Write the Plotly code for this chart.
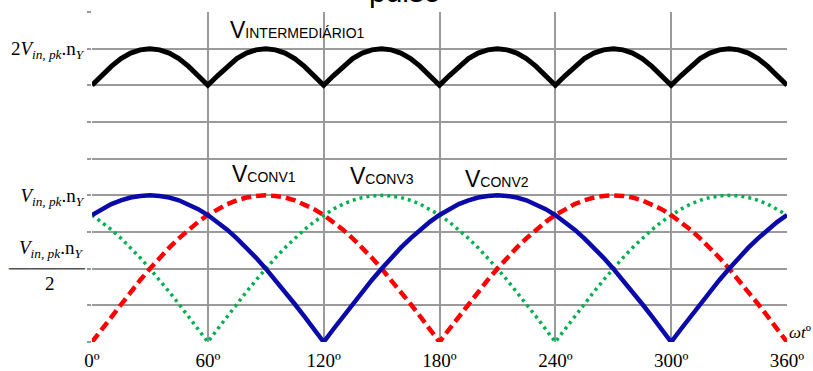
import plotly.graph_objects as go

# angle axis (degrees), 5-degree steps
theta = list(range(0, 361, 5))

# values (unit = Vin,pk.nY)
v_conv1 = [0, .087, .174, .259, .342, .423, .500, .574, .643, .707, .766, .819, .866, .906, .940, .966, .985, .996, 1.0,
           .996, .985, .966, .940, .906, .866, .819, .766, .707, .643, .574, .500, .423, .342, .259, .174, .087, 0,
           .087, .174, .259, .342, .423, .500, .574, .643, .707, .766, .819, .866, .906, .940, .966, .985, .996, 1.0,
           .996, .985, .966, .940, .906, .866, .819, .766, .707, .643, .574, .500, .423, .342, .259, .174, .087, 0]

v_conv2 = [.866, .906, .940, .966, .985, .996, 1.0, .996, .985, .966, .940, .906, .866, .819, .766, .707, .643, .574, .500,
           .423, .342, .259, .174, .087, 0,
           .087, .174, .259, .342, .423, .500, .574, .643, .707, .766, .819, .866, .906, .940, .966, .985, .996, 1.0,
           .996, .985, .966, .940, .906, .866, .819, .766, .707, .643, .574, .500, .423, .342, .259, .174, .087, 0,
           .087, .174, .259, .342, .423, .500, .574, .643, .707, .766, .819, .866]

v_conv3 = [.866, .819, .766, .707, .643, .574, .500, .423, .342, .259, .174, .087, 0,
           .087, .174, .259, .342, .423, .500, .574, .643, .707, .766, .819, .866, .906, .940, .966, .985, .996, 1.0,
           .996, .985, .966, .940, .906, .866, .819, .766, .707, .643, .574, .500, .423, .342, .259, .174, .087, 0,
           .087, .174, .259, .342, .423, .500, .574, .643, .707, .766, .819, .866, .906, .940, .966, .985, .996, 1.0,
           .996, .985, .966, .940, .906, .866]

v_intermediario = [1.75, 1.815, 1.879, 1.932, 1.970, 1.992, 2.0, 1.992, 1.970, 1.932, 1.879, 1.815, 1.75,
                   1.815, 1.879, 1.932, 1.970, 1.992, 2.0, 1.992, 1.970, 1.932, 1.879, 1.815, 1.75,
                   1.815, 1.879, 1.932, 1.970, 1.992, 2.0, 1.992, 1.970, 1.932, 1.879, 1.815, 1.75,
                   1.815, 1.879, 1.932, 1.970, 1.992, 2.0, 1.992, 1.970, 1.932, 1.879, 1.815, 1.75,
                   1.815, 1.879, 1.932, 1.970, 1.992, 2.0, 1.992, 1.970, 1.932, 1.879, 1.815, 1.75,
                   1.815, 1.879, 1.932, 1.970, 1.992, 2.0, 1.992, 1.970, 1.932, 1.879, 1.815, 1.75]

x_tickvals = [0, 60, 120, 180, 240, 300, 360]
x_ticktext = ["0º", "60º", "120º", "180º", "240º", "300º", "360º"]
x_gridvals = [0, 60, 120, 180, 240, 300]
y_gridvals = [0, 0.25, 0.5, 0.75, 1.0, 1.25, 1.5, 1.75, 2.0, 2.25]
y_ticktext = ["", "", "", "", "<i>V</i><sub><i>in, pk</i></sub>.n<sub><i>Y</i></sub>", "", "", "",
              "2<i>V</i><sub><i>in, pk</i></sub>.n<sub><i>Y</i></sub>", ""]

SERIF = "Liberation Serif, Times New Roman, serif"
SANS = "Liberation Sans, Arial, sans-serif"
GRID = "#9a9a9a"

fig = go.Figure()
fig.add_trace(go.Scatter(x=theta, y=v_intermediario, mode="lines", xaxis="x2",
                         line=dict(color="#000000", width=5)))
fig.add_trace(go.Scatter(x=theta, y=v_conv3, mode="lines",
                         line=dict(color="#00B050", width=3.5, dash="3px,4px")))
fig.add_trace(go.Scatter(x=theta, y=v_conv1, mode="lines",
                         line=dict(color="#FF0000", width=4.5, dash="10px,5px")))
fig.add_trace(go.Scatter(x=theta, y=v_conv2, mode="lines",
                         line=dict(color="#0A0AAA", width=4.5)))

fig.update_layout(
    width=813, height=371,
    margin=dict(l=92, r=26, t=12, b=29),
    paper_bgcolor="white", plot_bgcolor="white",
    showlegend=False,
    xaxis=dict(range=[0, 360], tickmode="array", tickvals=x_tickvals, ticktext=x_ticktext,
               showgrid=False, zeroline=False, showline=False, ticks="", automargin=False,
               ticklabelstandoff=5,
               tickfont=dict(family=SERIF, size=19, color="black")),
    xaxis2=dict(range=[0, 360], overlaying="x", anchor="y", tickmode="array", tickvals=x_gridvals,
                showgrid=True, gridcolor=GRID, gridwidth=2, showticklabels=False,
                zeroline=False, showline=False, ticks="", automargin=False),
    yaxis=dict(range=[0, 2.25], tickmode="array", tickvals=y_gridvals, ticktext=y_ticktext,
               showgrid=True, gridcolor=GRID, gridwidth=2, zeroline=False, showline=False,
               ticks="outside", ticklen=4, tickcolor=GRID, tickwidth=2, automargin=False,
               tickfont=dict(family=SERIF, size=19, color="black")),
)

def vlabel(x, y, sub):
    fig.add_annotation(x=x, y=y, xref="x", yref="y", xanchor="left", yanchor="middle",
                       showarrow=False,
                       text='V<span style="font-size:14px">' + sub + '</span>',
                       font=dict(family=SANS, size=23, color="black"))

vlabel(70.5, 2.13, "INTERMEDIÁRIO1")
vlabel(71.5, 1.145, "CONV1")
vlabel(132.6, 1.135, "CONV3")
vlabel(192.2, 1.11, "CONV2")

# fraction label  Vin,pk.nY / 2
fig.add_annotation(x=0, y=0.5, xref="paper", yref="y", xanchor="right", yanchor="middle",
                   xshift=-7, yshift=20, showarrow=False,
                   text="<i>V</i><sub><i>in, pk</i></sub>.n<sub><i>Y</i></sub>",
                   font=dict(family=SERIF, size=19, color="black"))
fig.add_annotation(x=0, y=0.5, xref="paper", yref="y", xanchor="right", yanchor="middle",
                   xshift=-4, yshift=0, showarrow=False,
                   text="───────",
                   font=dict(family="DejaVu Sans", size=18, color="#555555"))
fig.add_annotation(x=0, y=0.5, xref="paper", yref="y", xanchor="center", yanchor="middle",
                   xshift=-42, yshift=-15, showarrow=False,
                   text="2",
                   font=dict(family=SERIF, size=19, color="black"))

# axis name
fig.add_annotation(x=360, y=0, xref="x", yref="y", xanchor="left", yanchor="middle",
                   xshift=0, yshift=10, showarrow=False,
                   text="<i>ωt</i>º",
                   font=dict(family=SERIF, size=17, color="black"))

# clipped title fragment
fig.add_annotation(x=0.45, y=1, xref="paper", yref="paper", xanchor="center", yanchor="bottom",
                   yshift=2, showarrow=False, text="pulso",
                   font=dict(family=SANS, size=30, color="black"))

fig.write_html("out.html")
